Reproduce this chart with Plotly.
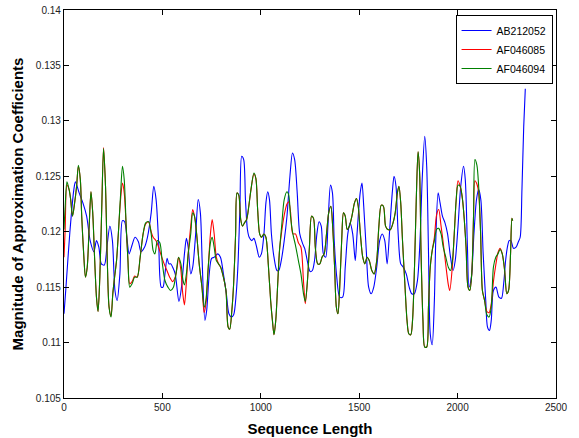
import plotly.graph_objects as go

# ---------------- data ----------------
blue_x = [0, 10, 30, 50, 58, 77, 96, 115, 133, 152, 165, 177, 190, 205, 218, 233, 246, 259, 270, 284,
          297, 308, 321, 331, 346, 361, 378, 391, 409, 424, 443, 456, 468, 481, 494, 503, 513, 524, 533, 543,
          552, 565, 584, 597, 612, 622, 631, 644, 654, 669, 682, 693, 702, 716, 725, 738, 750, 763, 781, 795,
          810, 825, 838, 851, 862, 875, 885, 894, 903, 913, 922, 932, 941, 954, 965, 979, 992, 1003, 1016, 1026,
          1035, 1044, 1054, 1067, 1082, 1091, 1104, 1119, 1133, 1148, 1161, 1172, 1185, 1198, 1213, 1223, 1236, 1251, 1262, 1273,
          1285, 1296, 1307, 1318, 1330, 1341, 1354, 1364, 1373, 1386, 1401, 1416, 1429, 1442, 1454, 1467, 1480, 1489, 1505, 1514,
          1523, 1536, 1548, 1561, 1574, 1589, 1604, 1617, 1630, 1642, 1655, 1668, 1677, 1687, 1698, 1711, 1724, 1739, 1754, 1767,
          1780, 1796, 1809, 1820, 1833, 1843, 1852, 1861, 1871, 1882, 1889, 1901, 1911, 1923, 1936, 1949, 1964, 1977, 1988, 2001,
          2016, 2030, 2039, 2050, 2058, 2070, 2083, 2096, 2107, 2118, 2130, 2143, 2152, 2162, 2171, 2182, 2195, 2210, 2223, 2234,
          2244, 2253, 2262, 2271, 2284, 2297, 2309, 2318, 2327, 2336, 2344]
blue_y = [0.1126, 0.1150, 0.1200, 0.1238, 0.1245, 0.1235, 0.1226, 0.1214, 0.1192, 0.1182, 0.1192, 0.1186, 0.1171, 0.1170, 0.1186, 0.1205, 0.1192, 0.1147, 0.1138, 0.1162,
          0.1210, 0.1209, 0.1192, 0.1180, 0.1188, 0.1195, 0.1191, 0.1182, 0.1186, 0.1195, 0.1217, 0.1241, 0.1229, 0.1190, 0.1150, 0.1150, 0.1162, 0.1176, 0.1171, 0.1171,
          0.1168, 0.1162, 0.1137, 0.1150, 0.1180, 0.1194, 0.1186, 0.1162, 0.1168, 0.1198, 0.1229, 0.1217, 0.1174, 0.1120, 0.1129, 0.1162, 0.1176, 0.1177, 0.1180, 0.1177,
          0.1162, 0.1144, 0.1126, 0.1123, 0.1125, 0.1144, 0.1174, 0.1223, 0.1268, 0.1265, 0.1229, 0.1202, 0.1195, 0.1192, 0.1194, 0.1186, 0.1177, 0.1180, 0.1198, 0.1226,
          0.1236, 0.1229, 0.1198, 0.1177, 0.1165, 0.1165, 0.1174, 0.1192, 0.1214, 0.1250, 0.1271, 0.1265, 0.1235, 0.1198, 0.1189, 0.1185, 0.1174, 0.1164, 0.1165, 0.1174,
          0.1198, 0.1209, 0.1205, 0.1180, 0.1177, 0.1205, 0.1242, 0.1235, 0.1192, 0.1159, 0.1141, 0.1141, 0.1168, 0.1198, 0.1208, 0.1198, 0.1174, 0.1198, 0.1235, 0.1244,
          0.1223, 0.1183, 0.1150, 0.1144, 0.1150, 0.1168, 0.1192, 0.1198, 0.1192, 0.1171, 0.1202, 0.1235, 0.1250, 0.1241, 0.1198, 0.1171, 0.1168, 0.1162, 0.1150, 0.1144,
          0.1144, 0.1156, 0.1192, 0.1247, 0.1286, 0.1259, 0.1183, 0.1108, 0.1098, 0.1138, 0.1192, 0.1235, 0.1226, 0.1214, 0.1208, 0.1198, 0.1177, 0.1165, 0.1174, 0.1202,
          0.1241, 0.1259, 0.1247, 0.1186, 0.1150, 0.1159, 0.1198, 0.1229, 0.1238, 0.1229, 0.1180, 0.1138, 0.1114, 0.1111, 0.1120, 0.1147, 0.1150, 0.1141, 0.1140, 0.1153,
          0.1174, 0.1186, 0.1192, 0.1192, 0.1185, 0.1186, 0.1191, 0.1195, 0.1238, 0.1295, 0.1329]

red_x = [0, 6, 15, 26, 34, 43, 54, 64, 73, 83, 90, 100, 109, 118, 128, 137, 146, 156, 165, 173,
         182, 192, 201, 211, 220, 229, 239, 248, 257, 267, 276, 287, 297, 306, 316, 325, 334, 346, 359, 372,
         387, 402, 415, 430, 443, 453, 467, 481, 495, 509, 523, 537, 552, 565, 575, 582, 594, 603, 612, 622,
         631, 644, 654, 663, 674, 687, 701, 712, 721, 733, 744, 753, 763, 774, 785, 796, 810, 823, 834, 842,
         853, 862, 872, 879, 888, 898, 907, 917, 928, 939, 950, 965, 975, 984, 994, 1003, 1016, 1026, 1039, 1050,
         1059, 1067, 1076, 1086, 1095, 1106, 1119, 1133, 1142, 1151, 1163, 1176, 1191, 1204, 1217, 1226, 1236, 1247, 1258, 1268,
         1277, 1289, 1300, 1311, 1322, 1334, 1345, 1356, 1366, 1375, 1384, 1392, 1401, 1411, 1420, 1429, 1439, 1450, 1463, 1476,
         1486, 1495, 1506, 1518, 1529, 1540, 1551, 1564, 1576, 1589, 1600, 1612, 1623, 1634, 1645, 1659, 1672, 1683, 1694, 1702,
         1711, 1720, 1732, 1743, 1752, 1762, 1771, 1781, 1790, 1799, 1807, 1814, 1824, 1833, 1843, 1852, 1861, 1871, 1882, 1893,
         1904, 1916, 1927, 1940, 1953, 1960, 1974, 1983, 1993, 2002, 2013, 2025, 2034, 2043, 2053, 2062, 2072, 2081, 2088, 2098,
         2107, 2117, 2126, 2137, 2149, 2160, 2171, 2182, 2194, 2205, 2216, 2227, 2239, 2250, 2259, 2269, 2276, 2280]
red_y = [0.1177, 0.1202, 0.1242, 0.1238, 0.1229, 0.1214, 0.1226, 0.1241, 0.1259, 0.1247, 0.1214, 0.1180, 0.1159, 0.1168, 0.1205, 0.1236, 0.1217, 0.1174, 0.1141, 0.1128,
         0.1159, 0.1223, 0.1276, 0.1241, 0.1174, 0.1132, 0.1124, 0.1144, 0.1159, 0.1174, 0.1198, 0.1228, 0.1244, 0.1235, 0.1205, 0.1174, 0.1153, 0.1155, 0.1160, 0.1159,
         0.1177, 0.1198, 0.1207, 0.1209, 0.1200, 0.1195, 0.1192, 0.1186, 0.1178, 0.1171, 0.1165, 0.1159, 0.1155, 0.1159, 0.1168, 0.1177, 0.1165, 0.1145, 0.1134, 0.1155,
         0.1180, 0.1205, 0.1220, 0.1214, 0.1198, 0.1171, 0.1150, 0.1127, 0.1135, 0.1168, 0.1198, 0.1211, 0.1198, 0.1177, 0.1171, 0.1168, 0.1159, 0.1147, 0.1114, 0.1112,
         0.1129, 0.1153, 0.1198, 0.1235, 0.1233, 0.1211, 0.1205, 0.1208, 0.1211, 0.1223, 0.1238, 0.1252, 0.1248, 0.1220, 0.1198, 0.1195, 0.1198, 0.1195, 0.1168, 0.1138,
         0.1120, 0.1107, 0.1120, 0.1153, 0.1183, 0.1200, 0.1215, 0.1225, 0.1227, 0.1218, 0.1198, 0.1198, 0.1190, 0.1186, 0.1155, 0.1135, 0.1153, 0.1186, 0.1214, 0.1212,
         0.1186, 0.1171, 0.1171, 0.1177, 0.1180, 0.1198, 0.1217, 0.1223, 0.1202, 0.1168, 0.1132, 0.1126, 0.1150, 0.1192, 0.1217, 0.1214, 0.1202, 0.1205, 0.1214, 0.1226,
         0.1230, 0.1223, 0.1198, 0.1177, 0.1171, 0.1177, 0.1174, 0.1165, 0.1162, 0.1174, 0.1205, 0.1224, 0.1223, 0.1205, 0.1202, 0.1202, 0.1208, 0.1217, 0.1235, 0.1241,
         0.1226, 0.1192, 0.1153, 0.1120, 0.1108, 0.1107, 0.1120, 0.1168, 0.1229, 0.1272, 0.1253, 0.1183, 0.1120, 0.1096, 0.1096, 0.1132, 0.1168, 0.1183, 0.1195, 0.1215,
         0.1220, 0.1205, 0.1190, 0.1170, 0.1152, 0.1147, 0.1170, 0.1198, 0.1229, 0.1246, 0.1241, 0.1229, 0.1211, 0.1186, 0.1150, 0.1147, 0.1162, 0.1214, 0.1246, 0.1243,
         0.1235, 0.1198, 0.1147, 0.1138, 0.1128, 0.1127, 0.1135, 0.1155, 0.1170, 0.1181, 0.1185, 0.1180, 0.1165, 0.1144, 0.1147, 0.1180, 0.1212, 0.1210]

green_x = [0, 6, 15, 26, 34, 43, 54, 64, 73, 83, 90, 100, 109, 118, 128, 137, 146, 156, 165, 173,
           182, 192, 201, 211, 220, 229, 239, 248, 257, 267, 276, 287, 297, 306, 316, 325, 334, 346, 359, 372,
           387, 402, 415, 430, 443, 453, 462, 475, 487, 500, 513, 528, 541, 556, 569, 582, 594, 605, 612, 622,
           631, 644, 654, 663, 674, 687, 701, 712, 721, 733, 744, 753, 763, 774, 785, 796, 810, 823, 834, 842,
           853, 862, 872, 879, 888, 898, 907, 917, 928, 939, 950, 965, 975, 984, 994, 1003, 1016, 1026, 1039, 1050,
           1059, 1067, 1076, 1086, 1095, 1106, 1119, 1133, 1142, 1151, 1163, 1176, 1191, 1204, 1217, 1226, 1236, 1247, 1258, 1268,
           1277, 1289, 1300, 1311, 1322, 1334, 1345, 1356, 1366, 1375, 1384, 1392, 1401, 1411, 1420, 1429, 1439, 1450, 1463, 1476,
           1486, 1495, 1506, 1518, 1529, 1540, 1551, 1564, 1576, 1589, 1600, 1612, 1623, 1634, 1645, 1659, 1672, 1683, 1694, 1702,
           1711, 1720, 1732, 1743, 1752, 1762, 1771, 1781, 1790, 1799, 1807, 1814, 1824, 1833, 1843, 1852, 1861, 1871, 1882, 1893,
           1904, 1916, 1927, 1940, 1953, 1964, 1974, 1983, 1993, 2002, 2013, 2025, 2034, 2043, 2053, 2062, 2072, 2081, 2088, 2098,
           2107, 2117, 2126, 2137, 2149, 2160, 2171, 2182, 2194, 2205, 2216, 2227, 2239, 2250, 2259, 2269, 2276, 2280]
green_y = [0.1202, 0.1223, 0.1245, 0.1238, 0.1229, 0.1214, 0.1226, 0.1241, 0.1260, 0.1247, 0.1214, 0.1180, 0.1159, 0.1168, 0.1205, 0.1236, 0.1217, 0.1174, 0.1141, 0.1128,
           0.1159, 0.1223, 0.1275, 0.1241, 0.1174, 0.1132, 0.1123, 0.1144, 0.1159, 0.1174, 0.1198, 0.1232, 0.1259, 0.1247, 0.1205, 0.1174, 0.1150, 0.1153, 0.1159, 0.1159,
           0.1177, 0.1198, 0.1208, 0.1209, 0.1198, 0.1183, 0.1180, 0.1192, 0.1190, 0.1171, 0.1156, 0.1150, 0.1147, 0.1150, 0.1162, 0.1177, 0.1171, 0.1156, 0.1152, 0.1162,
           0.1180, 0.1198, 0.1217, 0.1214, 0.1198, 0.1171, 0.1150, 0.1132, 0.1138, 0.1168, 0.1190, 0.1195, 0.1186, 0.1174, 0.1171, 0.1168, 0.1159, 0.1147, 0.1114, 0.1112,
           0.1129, 0.1153, 0.1198, 0.1235, 0.1233, 0.1211, 0.1205, 0.1208, 0.1211, 0.1223, 0.1238, 0.1253, 0.1248, 0.1220, 0.1198, 0.1195, 0.1198, 0.1195, 0.1168, 0.1138,
           0.1120, 0.1107, 0.1120, 0.1153, 0.1183, 0.1205, 0.1229, 0.1236, 0.1233, 0.1214, 0.1198, 0.1188, 0.1174, 0.1162, 0.1144, 0.1137, 0.1153, 0.1186, 0.1214, 0.1212,
           0.1186, 0.1171, 0.1171, 0.1177, 0.1180, 0.1198, 0.1217, 0.1223, 0.1202, 0.1168, 0.1132, 0.1126, 0.1150, 0.1192, 0.1217, 0.1214, 0.1202, 0.1205, 0.1214, 0.1226,
           0.1230, 0.1223, 0.1198, 0.1177, 0.1171, 0.1177, 0.1174, 0.1165, 0.1162, 0.1174, 0.1205, 0.1224, 0.1223, 0.1205, 0.1202, 0.1202, 0.1208, 0.1217, 0.1235, 0.1241,
           0.1226, 0.1192, 0.1153, 0.1120, 0.1108, 0.1107, 0.1120, 0.1168, 0.1229, 0.1272, 0.1253, 0.1183, 0.1120, 0.1096, 0.1096, 0.1132, 0.1168, 0.1183, 0.1192, 0.1202,
           0.1203, 0.1198, 0.1186, 0.1177, 0.1168, 0.1165, 0.1174, 0.1198, 0.1229, 0.1242, 0.1241, 0.1229, 0.1211, 0.1186, 0.1150, 0.1147, 0.1162, 0.1214, 0.1265, 0.1260,
           0.1241, 0.1198, 0.1147, 0.1138, 0.1125, 0.1123, 0.1132, 0.1168, 0.1177, 0.1180, 0.1184, 0.1180, 0.1165, 0.1144, 0.1147, 0.1180, 0.1212, 0.1210]

series_names = ["AB212052", "AF046085", "AF046094"]
x_ticks = [0, 500, 1000, 1500, 2000, 2500]
y_ticks = [0.105, 0.11, 0.115, 0.12, 0.125, 0.13, 0.135, 0.14]
y_tick_labels = ["0.105", "0.11", "0.115", "0.12", "0.125", "0.13", "0.135", "0.14"]

# ---------------- figure ----------------
FONT = "Liberation Sans, Arial, sans-serif"
colors = ["#0000ff", "#ff0000", "#008000"]
fig = go.Figure()
for name, xs, ys, c in zip(series_names, [blue_x, red_x, green_x], [blue_y, red_y, green_y], colors):
    fig.add_trace(go.Scatter(x=xs, y=ys, mode="lines", name=name,
                             line=dict(color=c, width=1.1, shape="spline", smoothing=0.8)))

axis_common = dict(showline=True, linecolor="black", linewidth=1.2, mirror="ticks",
                   ticks="inside", ticklen=5, tickcolor="black", tickwidth=1,
                   showgrid=False, zeroline=False,
                   tickfont=dict(family=FONT, size=10, color="#222"))

fig.update_xaxes(range=[0, 2500], tickvals=x_ticks, ticktext=[str(v) for v in x_ticks],
                 title=dict(text="<b>Sequence Length</b>", standoff=11,
                            font=dict(family=FONT, size=15, color="black")),
                 **axis_common)
fig.update_yaxes(range=[0.105, 0.14], tickvals=y_ticks, ticktext=y_tick_labels,
                 title=dict(text="<b>Magnitude of Approximation Coefficients</b>", standoff=8,
                            font=dict(family=FONT, size=15, color="black")),
                 **axis_common)

fig.update_layout(
    width=579, height=438,
    margin=dict(l=64, r=23, t=10, b=40, autoexpand=False),
    paper_bgcolor="white", plot_bgcolor="white",
    showlegend=True,
    legend=dict(x=0.993, y=0.987, xanchor="right", yanchor="top",
                bgcolor="white", bordercolor="black", borderwidth=1,
                font=dict(family=FONT, size=10.5, color="black"),
                itemwidth=30, tracegroupgap=0),
)

# remove the browser's default page margin so the figure sits at the window origin
fig.write_html("out.html",
               config={"displayModeBar": False},
               post_script="document.body.style.margin='0';document.body.style.overflow='hidden';")
